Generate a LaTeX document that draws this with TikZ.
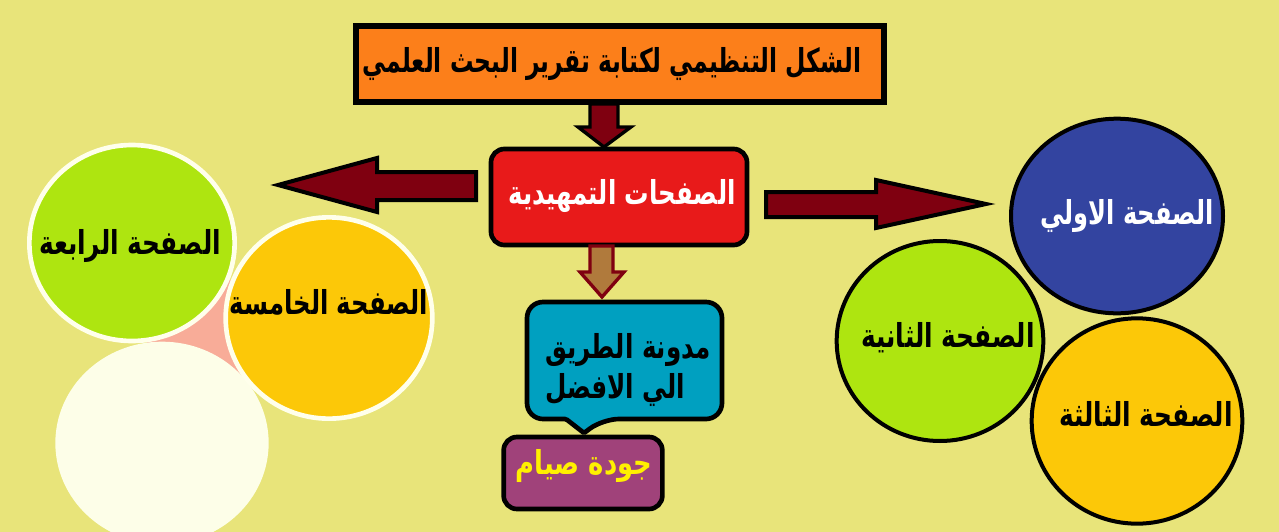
\documentclass[tikz,border=0pt]{standalone}
\usepackage{fontspec}
\usetikzlibrary{shapes.geometric}
\TeXXeTstate=1
\newfontfamily\arabicfont[Script=Arabic]{DejaVu Sans}
\newcommand{\ARtxt}[2]{\scalebox{#1}[1.3]{#2}}
\definecolor{bgc}{RGB}{232,228,122}
\definecolor{titleorange}{RGB}{252,127,26}
\definecolor{darkred}{RGB}{127,0,16}
\definecolor{boxred}{RGB}{232,26,26}
\definecolor{brownfill}{RGB}{176,122,60}
\definecolor{tealc}{RGB}{0,160,192}
\definecolor{purplec}{RGB}{160,66,122}
\definecolor{yellowtxt}{RGB}{255,240,0}
\definecolor{bluec}{RGB}{51,68,160}
\definecolor{greenc}{RGB}{174,229,16}
\definecolor{goldc}{RGB}{252,200,8}
\definecolor{salmonc}{RGB}{248,172,152}
\definecolor{creamc}{RGB}{253,254,232}
\definecolor{whiteedge}{RGB}{255,255,235}
\tikzset{
  artext/.style={font=\arabicfont\bfseries\fontsize{19}{24}\selectfont, inner sep=0pt},
  blockarrow/.style={fill=darkred, draw=black, line width=3pt, line join=miter},
  rcircle/.style={ellipse, draw=black, line width=3pt, inner sep=0pt},
  lcircle/.style={ellipse, draw=whiteedge, line width=3.5pt, inner sep=0pt},
  rbox/.style={draw=black, line width=3.5pt, rounded corners=10pt},
}
\begin{document}
\begin{tikzpicture}[x=0.75pt,y=-0.75pt]
\useasboundingbox (0,0) rectangle (1279,532);
\fill[bgc] (0,0) rectangle (1279,532);

% title
\node[draw=black, line width=4.5pt, fill=titleorange, minimum width=396pt, minimum height=57pt, inner sep=0pt] (title) at (620,64) {};
\node[artext] (titletext) at (612,64) {\ARtxt{0.925}{\beginR الشكل التنظيمي لكتابة تقرير البحث العلمي\endR}};

% arrow title -> red box
\draw[blockarrow, line width=2.5pt] (590,104) -- (618,104) -- (618,127) -- (631,127) -- (604,147) -- (578,127) -- (590,127) -- cycle;

% red box
\node[rbox, fill=boxred, minimum width=192pt, minimum height=72pt, inner sep=0pt] (intro) at (619,197) {};
\node[artext, text=white] (introtext) at (622,196) {\ARtxt{0.965}{\beginR الصفحات التمهيدية\endR}};

% arrow red box -> callout
\draw[fill=brownfill, draw=darkred, line width=2.5pt, line join=miter] (590,246) -- (613,246) -- (613,272) -- (624,272) -- (602,297) -- (580,272) -- (590,272) -- cycle;

% callout
\draw[draw=black, line width=3.5pt, fill=tealc, rounded corners=12pt] (527,302) -- (722,302) -- (722,419) -- (603,419) [rounded corners=1pt] -- (584,433) -- (566,419) [rounded corners=12pt] -- (527,419) -- cycle;
\node[artext, anchor=west] (blogtext1) at (545,350) {\ARtxt{0.97}{\beginR مدونة الطريق\endR}};
\node[artext, anchor=west] (blogtext2) at (545,390) {\ARtxt{0.97}{\beginR الي الافضل\endR}};

% purple box
\node[rbox, fill=purplec, minimum width=119pt, minimum height=54pt, inner sep=0pt] (author) at (583,473) {};
\node[artext, text=yellowtxt] (authortext) at (584,466) {\ARtxt{1.02}{\beginR جودة صيام\endR}};

% left arrow
\draw[blockarrow] (476,172) -- (377,172) -- (377,158) -- (278,185) -- (377,212) -- (377,200) -- (476,200) -- cycle;
% right arrow
\draw[blockarrow] (766,192) -- (876,192) -- (876,180) -- (986,204) -- (876,228) -- (876,217) -- (766,217) -- cycle;

% right circles
\node[rcircle, fill=bluec, minimum width=159pt, minimum height=146pt] (p1) at (1117,216) {};
\node[artext, text=white] at (1127,216) {\ARtxt{0.95}{\beginR الصفحة الاولي\endR}};
\node[rcircle, fill=greenc, minimum width=155pt, minimum height=150pt] (p2) at (940,341) {};
\node[artext] at (948,338) {\ARtxt{0.98}{\beginR الصفحة الثانية\endR}};
\node[rcircle, fill=goldc, minimum width=158pt, minimum height=154pt] (p3) at (1137,421) {};
\node[artext] at (1146,414) {\ARtxt{0.98}{\beginR الصفحة الثالثة\endR}};

% left circles
\fill[salmonc] (132,243) -- (329,317) -- (162,442) -- cycle;
\node[ellipse, fill=creamc, minimum width=160pt, minimum height=152pt, inner sep=0pt] (p6) at (162,443) {};
\node[lcircle, fill=greenc, minimum width=154pt, minimum height=147pt] (p4) at (132,243) {};
\node[artext] at (130,246) {\ARtxt{0.98}{\beginR الصفحة الرابعة\endR}};
\node[lcircle, fill=goldc, minimum width=155pt, minimum height=151pt] (p5) at (329,318) {};
\node[artext] at (329,302) {\ARtxt{0.96}{\beginR الصفحة الخامسة\endR}};
\end{tikzpicture}
\end{document}
